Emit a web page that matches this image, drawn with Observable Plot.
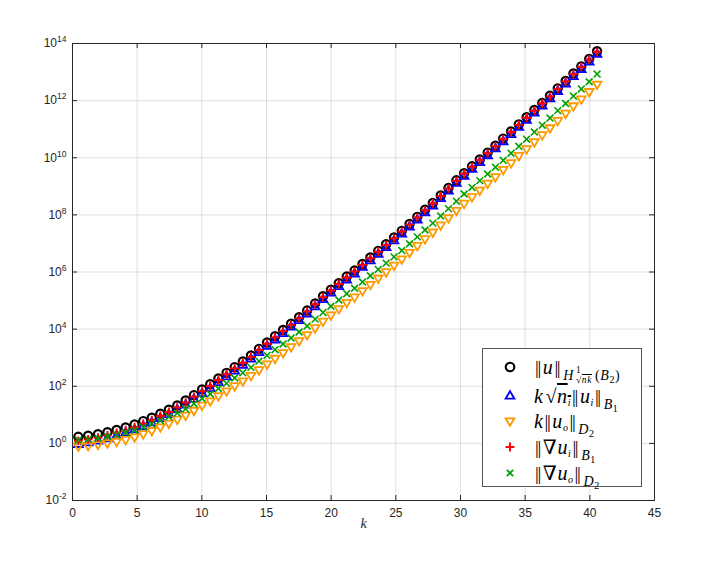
<!DOCTYPE html>
<html>
<head>
<meta charset="utf-8">
<script src="https://cdn.jsdelivr.net/npm/d3@7"></script>
<script src="https://cdn.jsdelivr.net/npm/@observablehq/plot@0.6"></script>
<style>
  body { margin: 0; background: #fff; }
  #wrap { position: relative; width: 702px; height: 562px; }
  #legend { position: absolute; left: 482px; top: 348px; width: 160px; height: 139px;
    border: 1px solid #555; background: #fff; box-sizing: border-box; }
  .row { position: absolute; left: 0; height: 24px; width: 100%; }
  .sym { position: absolute; left: 20px; top: 5px; width: 14px; height: 14px; }
  .lab { position: absolute; left: 51px; top: 0; line-height: 24px; white-space: nowrap;
    font-family: "Liberation Serif", "DejaVu Serif", serif; font-size: 20px; color: #000; letter-spacing: 0.6px; }
  .lab i { font-style: italic; }
  .bar { font-style: normal; letter-spacing: -1.4px; margin: 0 3px 0 1px; font-size: 19px; }
  .s1 { font-size: 14px; position: relative; top: 6px; margin-left: 1px; }
  .s2 { font-size: 10px; position: relative; top: 3px; }
  .stack { display: inline-flex; flex-direction: column; vertical-align: middle; font-size: 9.5px;
    line-height: 10px; margin: 0 3px 0 2px; position: relative; top: -2px; }
  .ov { text-decoration: overline; }
  .rad { font-style: normal; margin: 0 0 0 2px; }
</style>
</head>
<body>
<div id="wrap">
  <div id="chart"></div>
  <div id="legend"></div>
</div>
<script>
// ---- data (series given as log10 values) ----
const kValues = [0.45,1.21,1.97,2.70,3.41,4.11,4.80,5.47,6.13,6.79,7.45,8.10,8.75,9.39,10.02,
  10.65,11.28,11.91,12.54,13.17,13.80,14.42,15.04,15.66,16.28,16.90,17.52,18.14,18.76,19.37,19.98,
  20.59,21.20,21.81,22.42,23.03,23.64,24.25,24.86,25.46,26.06,26.66,27.26,27.86,28.47,29.07,29.68,
  30.28,30.89,31.49,32.10,32.70,33.30,33.91,34.51,35.11,35.71,36.32,36.92,37.52,38.13,38.73,39.34,39.95,40.56];

const log10NormU = [0.23,0.27,0.32,0.39,0.47,0.56,0.66,0.78,0.90,1.04,1.18,1.33,1.50,1.69,1.89,
  2.07,2.27,2.47,2.67,2.87,3.08,3.31,3.53,3.75,3.97,4.19,4.42,4.65,4.90,5.15,5.38,
  5.61,5.84,6.05,6.28,6.51,6.74,6.97,7.21,7.44,7.68,7.93,8.18,8.42,8.68,8.94,9.21,
  9.46,9.70,9.94,10.18,10.42,10.67,10.92,11.17,11.42,11.67,11.92,12.17,12.43,12.69,12.95,13.20,13.46,13.73];

const log10KSqrtNiUi = [-0.04,0.02,0.08,0.16,0.26,0.36,0.47,0.59,0.72,0.87,1.01,1.17,1.34,1.54,1.74,
  1.92,2.13,2.33,2.53,2.73,2.95,3.18,3.40,3.62,3.84,4.07,4.30,4.53,4.78,5.03,5.26,
  5.49,5.72,5.93,6.16,6.39,6.62,6.85,7.09,7.33,7.57,7.82,8.07,8.31,8.57,8.83,9.10,
  9.35,9.59,9.83,10.07,10.31,10.56,10.81,11.06,11.31,11.56,11.81,12.06,12.32,12.58,12.84,13.09,13.35,13.62];

const log10KUo = [-0.09,-0.07,-0.03,0.02,0.07,0.14,0.23,0.34,0.45,0.58,0.71,0.85,0.99,1.16,1.34,
  1.49,1.67,1.84,2.02,2.19,2.38,2.58,2.78,2.98,3.18,3.39,3.60,3.81,4.05,4.28,4.50,
  4.72,4.94,5.13,5.35,5.57,5.79,6.01,6.24,6.46,6.69,6.93,7.17,7.40,7.65,7.90,8.16,
  8.41,8.64,8.87,9.11,9.34,9.59,9.83,10.08,10.32,10.56,10.81,11.05,11.31,11.56,11.82,12.06,12.32,12.58];

const log10GradUi = [0.09,0.14,0.20,0.28,0.37,0.46,0.57,0.69,0.81,0.96,1.10,1.26,1.43,1.63,1.83,
  2.01,2.22,2.42,2.62,2.82,3.03,3.27,3.49,3.71,3.93,4.15,4.38,4.62,4.87,5.12,5.35,
  5.58,5.81,6.02,6.25,6.48,6.71,6.94,7.18,7.42,7.66,7.91,8.16,8.40,8.66,8.92,9.19,
  9.44,9.68,9.92,10.16,10.40,10.65,10.90,11.15,11.40,11.65,11.90,12.15,12.41,12.67,12.93,13.18,13.44,13.71];

const log10GradUo = [0.12,0.14,0.18,0.24,0.30,0.38,0.46,0.57,0.68,0.80,0.93,1.06,1.21,1.39,1.57,
  1.73,1.92,2.10,2.29,2.47,2.66,2.88,3.08,3.28,3.48,3.69,3.90,4.11,4.35,4.58,4.80,
  5.02,5.24,5.43,5.65,5.87,6.09,6.31,6.53,6.75,6.99,7.23,7.47,7.71,7.96,8.22,8.48,
  8.73,8.96,9.20,9.43,9.67,9.91,10.16,10.40,10.65,10.90,11.14,11.39,11.65,11.90,12.16,12.41,12.66,12.93];

const xTicks = [0,5,10,15,20,25,30,35,40,45];
const yTickExponents = [-2,0,2,4,6,8,10,12,14];

// ---- symbols ----
const triUp = { draw(ctx, size) { const R = Math.sqrt(size/Math.PI)*1.25, h = R*Math.sqrt(3)/2;
  ctx.moveTo(0,-R); ctx.lineTo(h,R/2); ctx.lineTo(-h,R/2); ctx.closePath(); } };
const triDown = { draw(ctx, size) { const R = Math.sqrt(size/Math.PI)*1.25, h = R*Math.sqrt(3)/2;
  ctx.moveTo(0,R); ctx.lineTo(h,-R/2); ctx.lineTo(-h,-R/2); ctx.closePath(); } };
const plusSym = { draw(ctx, size) { const a = Math.sqrt(size/Math.PI)*1.1;
  ctx.moveTo(-a,0); ctx.lineTo(a,0); ctx.moveTo(0,-a); ctx.lineTo(0,a); } };
const timesSym = { draw(ctx, size) { const a = Math.sqrt(size/Math.PI)*0.85;
  ctx.moveTo(-a,-a); ctx.lineTo(a,a); ctx.moveTo(-a,a); ctx.lineTo(a,-a); } };

const seriesDefs = [
  {vals: log10NormU, stroke: "#000000", symbol: "circle", sw: 2.2, r: 4.1},
  {vals: log10KSqrtNiUi, stroke: "#0000ff", symbol: triUp, sw: 1.8, r: 4},
  {vals: log10KUo, stroke: "#ff9900", symbol: triDown, sw: 1.8, r: 4},
  {vals: log10GradUi, stroke: "#ff0000", symbol: plusSym, sw: 1.9, r: 4},
  {vals: log10GradUo, stroke: "#00a000", symbol: timesSym, sw: 1.6, r: 4}
];

const W = 702, H = 562, mL = 72, mR = 48, mT = 43, mB = 62;
const pW = W - mL - mR, pH = H - mT - mB;
const yTicks = yTickExponents.map(e => 10 ** e);
const ink = "#262626";

const marks = [
  Plot.gridX(xTicks, {stroke: ink, strokeOpacity: 0.14}),
  Plot.gridY(yTicks, {stroke: ink, strokeOpacity: 0.14}),
  Plot.axisX(xTicks, {tickSize: 0, tickPadding: 8, fontSize: 12, label: null}),
  Plot.axisY(yTicks, {tickSize: 0, tickPadding: 6, fontSize: 12, label: null,
    tickFormat: d => "10^" + Math.round(Math.log10(d))}),
  Plot.tickX(xTicks, {x: d => d, stroke: ink, insetTop: pH - 5}),
  Plot.tickX(xTicks, {x: d => d, stroke: ink, insetBottom: pH - 5}),
  Plot.tickY(yTicks, {y: d => d, stroke: ink, insetRight: pW - 5}),
  Plot.tickY(yTicks, {y: d => d, stroke: ink, insetLeft: pW - 5}),
  Plot.frame({stroke: ink})
];
for (const s of seriesDefs) {
  const rows = kValues.map((k, i) => ({k, v: 10 ** s.vals[i]}));
  marks.push(Plot.dot(rows, {x: "k", y: "v", r: s.r, symbol: s.symbol, fill: "none",
    stroke: s.stroke, strokeWidth: s.sw}));
}
marks.push(Plot.text(["k"], {frameAnchor: "bottom", dy: 27, fontStyle: "italic",
  fontFamily: "Liberation Serif, DejaVu Serif, serif", fontSize: 14, fill: ink}));

const svg = Plot.plot({
  width: W, height: H,
  marginLeft: mL, marginRight: mR, marginTop: mT, marginBottom: mB,
  style: {fontFamily: "Liberation Sans, Arial, sans-serif", fontSize: "12px", color: ink, background: "#fff"},
  x: {domain: [0, 45], label: null},
  y: {type: "log", domain: [1e-2, 1e14], label: null},
  marks
});
document.getElementById("chart").appendChild(svg);

// superscript exponents on y tick labels
d3.select(svg).selectAll('g[aria-label="y-axis tick label"] text').each(function() {
  const t = this.textContent;
  const exp = t.split("^")[1];
  const sel = d3.select(this);
  sel.text(null);
  sel.append("tspan").text("10");
  sel.append("tspan").attr("dy", "-0.6em").attr("font-size", "8.5px").text(exp);
});

// ---- legend ----
const legendSyms = [
  '<circle cx="7" cy="7" r="4.3" fill="none" stroke="#000" stroke-width="2.1"/>',
  '<path d="M7,2.2L11.3,9.6L2.7,9.6Z" fill="none" stroke="#0000ff" stroke-width="1.9"/>',
  '<path d="M7,11.8L11.3,4.4L2.7,4.4Z" fill="none" stroke="#ff9900" stroke-width="1.9"/>',
  '<path d="M2.6,7H11.4M7,2.6V11.4" fill="none" stroke="#ff0000" stroke-width="2"/>',
  '<path d="M3.8,3.8L10.2,10.2M3.8,10.2L10.2,3.8" fill="none" stroke="#00a000" stroke-width="1.8"/>'
];
const B = '<span class="bar">||</span>';
const legendLabels = [
  B + '<i>u</i>' + B + '<span class="s1"><i>H</i><span class="stack"><span>1</span><span>√<span class="ov"><i>nk</i></span></span></span>(<i>B</i><span class="s2">2</span>)</span>',
  '<i>k</i><span class="rad">√</span><span class="ov"><i>n</i><span class="s2"><i>i</i></span></span>' + B + '<i>u</i><span class="s2"><i>i</i></span>' + B + '<span class="s1"><i>B</i><span class="s2">1</span></span>',
  '<i>k</i>' + B + '<i>u</i><span class="s2"><i>o</i></span>' + B + '<span class="s1"><i>D</i><span class="s2">2</span></span>',
  B + '∇<i>u</i><span class="s2"><i>i</i></span>' + B + '<span class="s1"><i>B</i><span class="s2">1</span></span>',
  B + '∇<i>u</i><span class="s2"><i>o</i></span>' + B + '<span class="s1"><i>D</i><span class="s2">2</span></span>'
];
const rowCenters = [18, 47, 72, 98, 124];
const legend = document.getElementById("legend");
legendLabels.forEach((lab, i) => {
  const row = document.createElement("div");
  row.className = "row";
  row.style.top = (rowCenters[i] - 12) + "px";
  row.innerHTML = '<svg class="sym" viewBox="0 0 14 14" width="14" height="14">' + legendSyms[i] + '</svg>' +
    '<span class="lab">' + lab + '</span>';
  legend.appendChild(row);
});
</script>
</body>
</html>
